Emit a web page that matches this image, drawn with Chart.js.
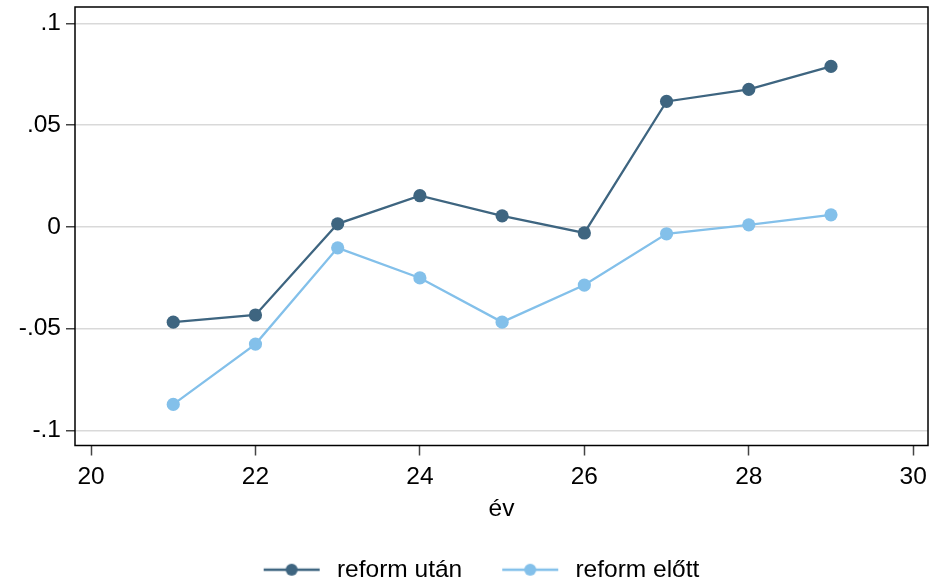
<!DOCTYPE html>
<html>
<head>
<meta charset="utf-8">
<script src="https://cdn.jsdelivr.net/npm/chart.js@4"></script>
<style>
  html, body { margin: 0; padding: 0; background: #fff; }
  #wrap { width: 942px; height: 583px; }
</style>
</head>
<body>
<div id="wrap"><canvas id="chart-line"></canvas></div>
<script>
// adatok
const years = [21, 22, 23, 24, 25, 26, 27, 28, 29];
const reformUtan = [-0.0468, -0.0433, 0.0015, 0.0153, 0.0054, -0.003, 0.0616, 0.0675, 0.0788];
const reformElott = [-0.0872, -0.0576, -0.0103, -0.0251, -0.0468, -0.0286, -0.0034, 0.001, 0.0059];
const seriesNames = ["reform után", "reform előtt"];
const xTicks = [20, 22, 24, 26, 28, 30];
const yTicks = [-0.1, -0.05, 0, 0.05, 0.1];
const yTickLabels = ["-.1", "-.05", "0", ".05", ".1"];

const DARK = "#3e6580";
const LIGHT = "#83c0ea";
const FONT = "'Liberation Sans', Arial, sans-serif";
const FSIZE = 24.5;

// jelmagyarázat ikon: vonal + pont, jobb oldalon kis üres hellyel
function legendIcon(color) {
  const c = document.createElement("canvas");
  c.width = 62;
  c.height = 14;
  const g = c.getContext("2d");
  g.strokeStyle = color;
  g.lineWidth = 2.3;
  g.beginPath();
  g.moveTo(1, 7);
  g.lineTo(57, 7);
  g.stroke();
  g.fillStyle = color;
  g.beginPath();
  g.arc(29, 7, 6, 0, Math.PI * 2);
  g.fill();
  return c;
}

// keret a rajzterület körül
const framePlugin = {
  id: "framePlugin",
  afterDatasetsDraw(chart) {
    const { ctx, chartArea } = chart;
    ctx.save();
    ctx.strokeStyle = "#000";
    ctx.lineWidth = 1.5;
    ctx.strokeRect(chartArea.left, chartArea.top, chartArea.right - chartArea.left, chartArea.bottom - chartArea.top);
    ctx.restore();
  },
};

// a jelmagyarázat sora a záró padding miatt balra csúszik, ezt igazítjuk
const legendShiftPlugin = {
  id: "legendShiftPlugin",
  afterLayout(chart) {
    chart.legend.left += 17;
    chart.legend.right += 17;
    chart.legend.top -= 1;
    chart.legend.bottom -= 1;
  },
};

function toPoints(values) {
  return years.map((x, i) => ({ x: x, y: values[i] }));
}

const icons = [legendIcon(DARK), legendIcon(LIGHT)];

new Chart(document.getElementById("chart-line"), {
  type: "line",
  data: {
    datasets: [
      {
        label: seriesNames[0],
        data: toPoints(reformUtan),
        borderColor: DARK,
        backgroundColor: DARK,
        borderWidth: 2.3,
        pointRadius: 6.6,
        pointHoverRadius: 6.6,
        pointBorderWidth: 0,
        tension: 0,
      },
      {
        label: seriesNames[1],
        data: toPoints(reformElott),
        borderColor: LIGHT,
        backgroundColor: LIGHT,
        borderWidth: 2.3,
        pointRadius: 6.6,
        pointHoverRadius: 6.6,
        pointBorderWidth: 0,
        tension: 0,
      },
    ],
  },
  plugins: [framePlugin, legendShiftPlugin],
  options: {
    responsive: true,
    maintainAspectRatio: false,
    animation: false,
    layout: { padding: { left: 0, top: 0, right: 14, bottom: -10 } },
    scales: {
      x: {
        type: "linear",
        min: 19.805,
        max: 30.18,
        afterBuildTicks: (scale) => {
          scale.ticks = xTicks.map((v) => ({ value: v }));
        },
        afterFit: (scale) => {
          scale.height = 74;
        },
        ticks: {
          color: "#000",
          font: { family: FONT, size: FSIZE },
          padding: 7,
          maxRotation: 0,
          callback: (v) => String(v),
        },
        grid: {
          drawOnChartArea: false,
          drawTicks: true,
          tickLength: 10,
          tickColor: "#444",
          tickWidth: 1.5,
        },
        border: { display: false },
        title: {
          display: true,
          text: "év",
          color: "#000",
          font: { family: FONT, size: FSIZE },
          padding: { top: 0, bottom: -4 },
        },
      },
      y: {
        min: -0.1074,
        max: 0.108,
        afterBuildTicks: (scale) => {
          scale.ticks = yTicks.map((v) => ({ value: v }));
        },
        afterFit: (scale) => {
          scale.width = 75;
        },
        ticks: {
          color: "#000",
          font: { family: FONT, size: FSIZE, lineHeight: 0.163 },
          padding: 5,
          callback: (v) => {
            const i = yTicks.findIndex((t) => Math.abs(t - v) < 1e-9);
            return i >= 0 ? yTickLabels[i] : "";
          },
        },
        grid: {
          color: "#d9d9d9",
          lineWidth: 1.5,
          tickLength: 9,
          tickColor: "#444",
          tickWidth: 1.5,
        },
        border: { display: false },
      },
    },
    plugins: {
      legend: {
        position: "bottom",
        labels: {
          usePointStyle: true,
          pointStyleWidth: 62,
          padding: 39,
          color: "#000",
          font: { family: FONT, size: FSIZE },
          generateLabels: (chart) =>
            chart.data.datasets.map((ds, i) => ({
              text: ds.label,
              pointStyle: icons[i],
              fillStyle: ds.borderColor,
              strokeStyle: ds.borderColor,
              lineWidth: 0,
              fontColor: "#000",
              datasetIndex: i,
              hidden: false,
            })),
        },
      },
      tooltip: { enabled: false },
    },
  },
});
</script>
</body>
</html>
